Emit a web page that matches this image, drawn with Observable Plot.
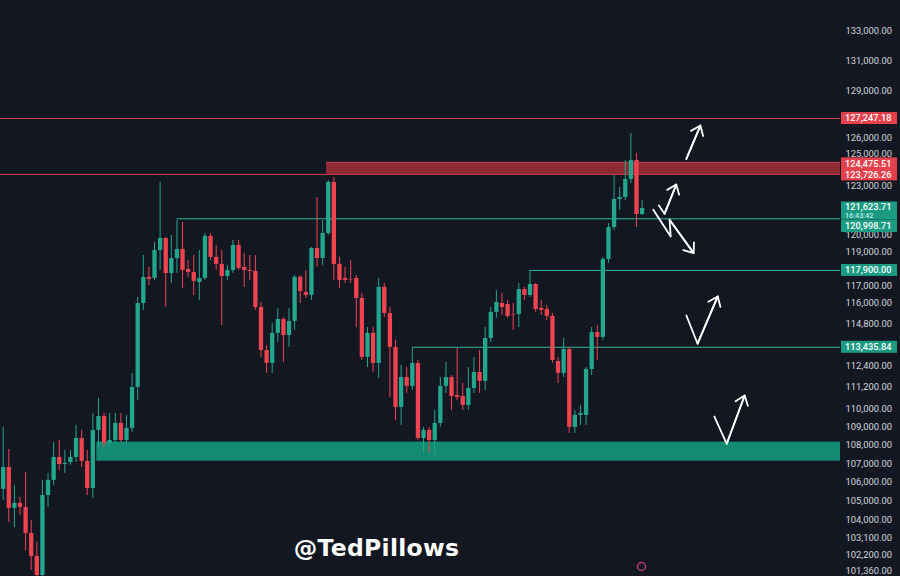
<!DOCTYPE html>
<html><head><meta charset="utf-8">
<script src="https://cdn.jsdelivr.net/npm/d3@7"></script>
<script src="https://cdn.jsdelivr.net/npm/@observablehq/plot@0.6"></script>
<style>
html,body{margin:0;padding:0;background:#131722;}
#chart{width:900px;height:576px;overflow:hidden;}
</style></head><body><div id="chart"></div>
<script>
// ---- data (candle index, open/high/low/close) ----
const opens = [105620,106790,104620,104880,104670,103310,102130,101150,105300,106100,
107330,106950,107060,107330,108360,107120,105670,108800,109560,108090,
108250,109180,108250,108910,111170,115960,117490,117430,119090,119810,
117720,118610,119150,117960,117780,117190,117430,119930,118670,118260,
117540,117900,119390,118080,117900,117840,115730,113255,112520,114230,
115030,114110,114920,117490,116600,116430,119210,118610,120110,123230,
118260,117430,117370,117430,116250,112860,114230,112520,116900,115380,
113430,110060,111730,111230,112520,108360,108800,108250,109180,111230,
111730,110720,110670,110170,111110,112010,111510,113940,115440,115960,
115900,115320,115320,116780,116430,117070,115670,115610,115210,112630,
111960,113310,108960,109620,109620,112180,114280,114000,118550,120470,
122180,122300,123410,124594,121260];
const highs = [108960,107760,105830,105200,106520,103990,102850,106100,106470,108140,
108250,107710,107710,109070,108800,107710,109730,110560,109730,109730,
109730,109730,109620,111960,116310,118790,118080,119570,123230,119870,
119990,120900,120780,118490,118790,119090,120110,120110,119390,119090,
118200,119690,119690,118910,118790,118790,116020,113540,114800,115670,
115150,115670,117600,117600,117900,119270,122300,120900,123350,123530,
118670,118080,118490,117600,116550,114570,114570,117430,117130,115730,
113830,112410,112290,113370,112690,108960,108960,109890,111730,112580,
111840,113370,111390,112290,112860,113255,114570,115730,116720,116550,
116135,115960,117130,116900,117900,117130,116135,115840,115380,112860,
113940,113430,109890,110170,112290,114570,114690,118670,120710,123660,
122920,124594,126300,125030,122120];
const lows = [105040,103880,103620,104250,102430,101410,100900,101000,104670,105830,
106630,106470,106900,107060,106790,105300,105140,107870,107870,107870,
108090,108140,108140,108690,110450,115550,117010,117310,117900,115730,
117130,117720,116840,117490,116430,116135,117310,118490,117900,114690,
117310,117720,117900,116900,117310,115550,112860,111960,111960,113710,
112580,113430,114400,115960,116250,116135,118080,118200,119990,117310,
116840,117130,117130,114570,112690,112290,112010,111670,115150,110610,
109340,109070,110840,111000,108250,107550,107550,107440,108960,110840,
109890,110450,109890,109890,110840,110840,111000,113710,115090,115260,
115090,114400,114570,116135,116310,115440,115260,114975,112520,111390,
111730,108630,108630,109070,109070,111840,112690,113830,118310,120290,
121505,122117,123160,120470,121200];
const closes = [106790,104620,104880,104670,103310,102130,101150,105300,106100,107330,
106950,107010,107330,108360,107120,105670,108800,109560,108090,108250,
109180,108250,108910,111170,115960,117490,117370,119090,119810,117720,
118610,119150,117900,117780,117250,117430,119930,118670,118260,117540,
117900,119390,118020,117900,117840,115730,113255,112520,114230,115030,
114110,114920,117490,116660,116430,119210,118610,120110,123230,118260,
117310,117310,117340,116250,112860,114230,112520,116900,115380,113430,
110060,111730,111230,112520,108360,108800,108250,109180,111230,111730,
110670,110610,110170,111110,112010,111510,113940,115440,116020,115730,
115210,115290,116780,116430,117070,115610,115550,115210,112690,111960,
113310,108960,109620,109730,112180,114280,114000,118550,120470,122180,
122300,123410,124594,121260,121623.71];

// ---- levels ----
const redLevels = [127247.18, 123726.26];
const redZone = {start: 58, low: 123726.26, high: 124475.51};
const tealZone = {start: 17, low: 107130, high: 108160};
const tealLevels = [
  {start: 31, value: 120998.71},
  {start: 94, value: 117900},
  {start: 73, value: 113435.84}
];
const lastPrice = 121623.71;
const countdown = "16:43:42";
const tickValues = [133000,131000,129000,126000,125000,123000,
120000,119000,117000,116000,114800,112400,111200,110000,109000,108000,
107000,106000,105000,104000,103100,102200,101360];
const priceTags = [
  {value: 127247.18, kind: "red", shift: 0},
  {value: 124475.51, kind: "red", shift: 1.5},
  {value: 123726.26, kind: "red", shift: 0.5},
  {value: 117900, kind: "teal", shift: 0},
  {value: 113435.84, kind: "teal", shift: 0}
];
const belowTag = {value: 120998.71, kind: "teal"};
// hand-drawn arrows (candle index, price)
const arrowPaths = [
  [[121.9,124700],[124.4,126800]],
  [[117.0,121810],[118.0,121300],[120.1,123100]],
  [[116.0,121550],[119.1,119930],[118.9,120940],[123.2,118930]],
  [[121.9,115260],[123.9,113640],[127.5,116370]],
  [[126.9,109560],[129.1,108070],[132.3,110720]]
];
const watermark = "@TedPillows";

// ---- build ----
const X_MIN = -0.48, X_MAX = 149.4;
const UP = "#22a68d", DOWN = "#ef4350";
const candles = opens.map((o, i) => ({i, open: o, high: highs[i], low: lows[i], close: closes[i]}));
const colorOf = d => d.close >= d.open ? UP : DOWN;

const pathLines = arrowPaths.flatMap((p, k) => p.map(([i, v]) => ({k, i, v})));
const heads = arrowPaths.map(p => ({x1: p[p.length-2][0], y1: p[p.length-2][1], x2: p[p.length-1][0], y2: p[p.length-1][1]}));

const chart = Plot.plot({
  width: 900, height: 576,
  marginLeft: 0, marginRight: 60, marginTop: 0, marginBottom: 0,
  style: {background: "#131722", color: "#d3d6dd", fontFamily: "Roboto, sans-serif", fontSize: "9.4px"},
  x: {type: "linear", domain: [X_MIN, X_MAX], axis: null},
  y: {type: "log", domain: [101100, 135020], axis: "right", ticks: tickValues,
      tickFormat: d3.format(",.2f"), tickSize: 0, tickPadding: 5, label: null},
  marks: [
    Plot.rect([tealZone], {x1: d => d.start - 0.3, x2: X_MAX, y1: "low", y2: "high", fill: "#138b73"}),
    Plot.rect([redZone], {x1: d => d.start - 0.3, x2: X_MAX, y1: "low", y2: "high", fill: "#8e2a34"}),
    Plot.ruleY(redLevels, {stroke: "#d03f4a", strokeWidth: 1}),
    Plot.ruleY([redZone.high], {x1: redZone.start - 0.3, x2: X_MAX, stroke: "#c23a45", strokeWidth: 1}),
    Plot.ruleY(tealLevels, {y: "value", x1: "start", x2: X_MAX, stroke: "#2fb59c", strokeWidth: 1}),
    Plot.ruleX(candles, {x: "i", y1: "low", y2: "high", stroke: colorOf, strokeWidth: 1}),
    Plot.ruleX(candles, {x: "i", y1: "open", y2: "close", stroke: colorOf, strokeWidth: 4.3}),
    Plot.line(pathLines, {x: "i", y: "v", z: "k", stroke: "white", strokeWidth: 1.8, curve: "linear"}),
    Plot.arrow(heads, {x1: "x1", y1: "y1", x2: "x2", y2: "y2", stroke: "white", strokeWidth: 1.8, headLength: 9, headAngle: 75}),
    Plot.text([watermark], {frameAnchor: "bottom", dx: -44, dy: -21, lineAnchor: "bottom", fontSize: 23.5,
      fontWeight: "bold", fill: "white", fontFamily: "DejaVu Sans, sans-serif", textAnchor: "middle"}),
    Plot.dot([0], {frameAnchor: "bottom", dx: 221, dy: -10, r: 4, stroke: "#b33d77", strokeWidth: 1.5, fill: "none"})
  ]
});
d3.select(chart).selectAll("text").filter(function() { return this.textContent === watermark; }).attr("letter-spacing", "0.3px");

// price tags on the right axis
const ys = chart.scale("y");
const fmt = d3.format(",.2f");
const svg = d3.select(chart);
const g = svg.append("g").attr("font-family", "Roboto, sans-serif").attr("font-size", "9.2px")
  .attr("font-weight", 500).attr("text-anchor", "start");
const tagColor = {red: "#e5414d", teal: "#1a9b82"};
priceTags.forEach(t => {
  const y = ys.apply(t.value) + t.shift;
  g.append("rect").attr("x", 841).attr("y", y - 6).attr("width", 56).attr("height", 12).attr("fill", tagColor[t.kind]);
  g.append("text").attr("x", 845).attr("y", y).attr("dy", "0.34em").attr("fill", "white").text(fmt(t.value));
});
{
  const y = ys.apply(lastPrice);
  g.append("rect").attr("x", 841).attr("y", y - 6.5).attr("width", 56).attr("height", 18).attr("fill", tagColor.teal);
  g.append("text").attr("x", 845).attr("y", y - 1.5).attr("dy", "0.34em").attr("fill", "white").text(fmt(lastPrice));
  g.append("text").attr("x", 845).attr("y", y + 7.5).attr("dy", "0.34em").attr("fill", "#bfeee3").attr("font-size", "7.2px").text(countdown);
  const yb = y + 17.5;
  g.append("rect").attr("x", 841).attr("y", yb - 6).attr("width", 56).attr("height", 12.5).attr("fill", tagColor[belowTag.kind]);
  g.append("text").attr("x", 845).attr("y", yb).attr("dy", "0.34em").attr("fill", "white").text(fmt(belowTag.value));
}
document.getElementById("chart").appendChild(chart);
</script>
</body></html>
